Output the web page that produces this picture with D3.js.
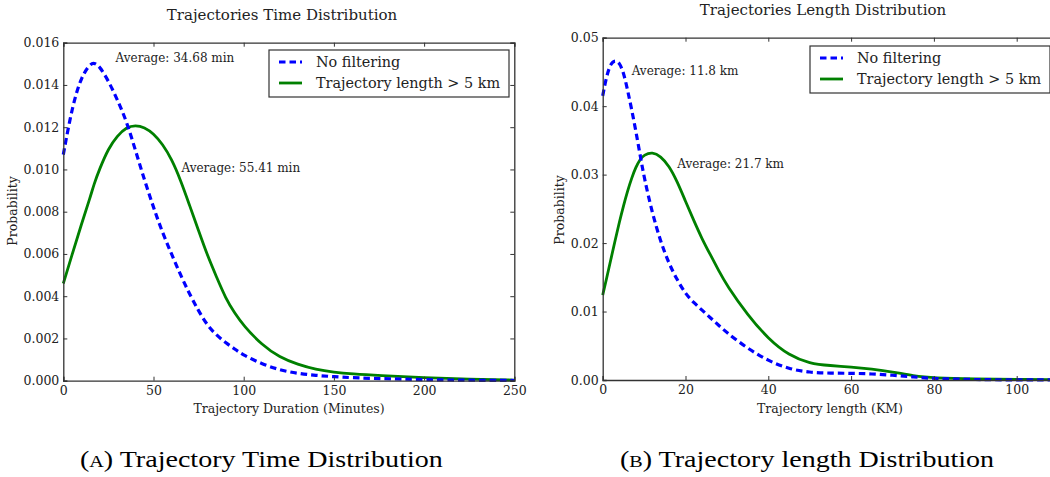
<!DOCTYPE html>
<html>
<head>
<meta charset="utf-8">
<script src="https://cdn.jsdelivr.net/npm/d3@7"></script>
<style>
  body { margin: 0; background: #fff; }
  svg { display: block; }
  text { font-family: "DejaVu Serif", serif; fill: #222; }
  .caption { font-family: "Liberation Serif", serif; fill: #000; }
</style>
</head>
<body>
<div id="chart"></div>
<script>
// ---- data ----
let timeMinutes = [0, 5, 10, 15, 17, 20, 25, 30, 35, 40, 45, 50, 55, 60, 65, 70, 75, 80, 85, 90, 95, 100, 110, 120, 130, 140, 150, 160, 175, 200, 225, 250];
let timeNoFilter = [0.0107, 0.0130, 0.0144, 0.0150, 0.01505, 0.0149, 0.0142, 0.0133, 0.0123, 0.0109, 0.0095, 0.0082, 0.0070, 0.0060, 0.0050, 0.0041, 0.0033, 0.0026, 0.00215, 0.0018, 0.0015, 0.0012, 0.0008, 0.0005, 0.00034, 0.00025, 0.00019, 0.00014, 0.0001, 0.00005, 0.00002, 0.00001];
let timeLong = [0.0046, 0.0060, 0.0074, 0.0087, 0.0093, 0.0100, 0.0110, 0.0116, 0.0120, 0.0121, 0.0120, 0.0117, 0.0112, 0.0105, 0.0095, 0.0083, 0.0071, 0.0059, 0.0049, 0.0039, 0.0032, 0.0026, 0.0017, 0.0011, 0.00077, 0.00053, 0.0004, 0.00032, 0.00024, 0.00014, 0.00007, 0.00003];

let lengthKm = [0, 1, 2, 3, 4, 5, 6, 7, 8, 9, 10, 12, 14, 16, 18, 20, 22, 24, 26, 28, 30, 35, 40, 45, 50, 55, 60, 65, 70, 75, 80, 90, 100, 110, 120];
let lengthNoFilter = [0.0415, 0.0446, 0.0463, 0.0467, 0.0464, 0.0450, 0.0424, 0.0395, 0.0364, 0.0330, 0.0296, 0.0243, 0.0202, 0.0170, 0.0146, 0.0126, 0.0113, 0.0102, 0.0091, 0.0080, 0.0069, 0.0046, 0.0028, 0.0016, 0.0011, 0.0010, 0.00098, 0.0009, 0.0007, 0.00045, 0.0002, 0.00005, 0.00002, 0.00001, 0];
let lengthLong = [0.0124, 0.0150, 0.0177, 0.0204, 0.0230, 0.0254, 0.0276, 0.0295, 0.0311, 0.0322, 0.0329, 0.0333, 0.0327, 0.0313, 0.0290, 0.0261, 0.0233, 0.0206, 0.0183, 0.0160, 0.0138, 0.0095, 0.0060, 0.0036, 0.0024, 0.0021, 0.0019, 0.0016, 0.0012, 0.0006, 0.0003, 0.00015, 0.0001, 0.00005, 0.00002];

let timeXTicks = [0, 50, 100, 150, 200, 250];
let timeYTicks = [0, 0.002, 0.004, 0.006, 0.008, 0.010, 0.012, 0.014, 0.016];
let lengthXTicks = [0, 20, 40, 60, 80, 100];
let lengthYTicks = [0, 0.01, 0.02, 0.03, 0.04, 0.05];

let seriesNames = ["No filtering", "Trajectory length > 5 km"];
let timeAverages = ["Average: 34.68 min", "Average: 55.41 min"];
let lengthAverages = ["Average: 11.8 km", "Average: 21.7 km"];
let captions = ["Trajectory Time Distribution", "Trajectory length Distribution"];

let W = 1050, H = 477;
let blue = "#0000ff", green = "#008000";

let svg = d3.select("#chart")
            .append("svg")
            .attr("width", W)
            .attr("height", H);

function drawPanel(p) {
    let x = d3.scaleLinear().domain(p.xDomain).range([p.left, p.right]);
    let y = d3.scaleLinear().domain(p.yDomain).range([p.bottom, p.top]);
    let g = svg.append("g");

    // curves
    let line = d3.line()
                 .x((d, i) => x(p.xs[i]))
                 .y(d => y(d))
                 .curve(d3.curveBasis);

    g.append("path")
     .attr("d", line(p.long))
     .attr("fill", "none")
     .attr("stroke", green)
     .attr("stroke-width", 2.8);

    g.append("path")
     .attr("d", line(p.noFilter))
     .attr("fill", "none")
     .attr("stroke", blue)
     .attr("stroke-width", 3.2)
     .attr("stroke-dasharray", "6.5,4");

    // axes with inward ticks on all sides
    let fmtY = d3.format(p.yFormat);
    let bottomAxis = d3.axisBottom(x).tickValues(p.xTicks).tickSize(-4).tickPadding(5).tickFormat(d3.format("d"));
    let topAxis = d3.axisTop(x).tickValues(p.xTicks).tickSize(-4).tickFormat("");
    let leftAxis = d3.axisLeft(y).tickValues(p.yTicks).tickSize(-4).tickPadding(4).tickFormat(fmtY);
    let rightAxis = d3.axisRight(y).tickValues(p.yTicks).tickSize(-4).tickFormat("");

    let axes = [
        [bottomAxis, "translate(0," + p.bottom + ")"],
        [topAxis, "translate(0," + p.top + ")"],
        [leftAxis, "translate(" + p.left + ",0)"],
        [rightAxis, "translate(" + p.right + ",0)"]
    ];
    axes.forEach(a => {
        let ax = g.append("g").attr("transform", a[1]).call(a[0]);
        ax.attr("font-family", null);
        ax.select(".domain").attr("stroke", "#333").attr("stroke-width", 1.3);
        ax.selectAll(".tick line").attr("stroke", "#333");
        ax.selectAll("text").style("font-family", "DejaVu Serif").style("font-size", "12.5px").attr("fill", "#222");
    });

    // titles and labels
    g.append("text")
     .attr("x", p.titleX).attr("y", p.titleY)
     .attr("text-anchor", "middle")
     .style("font-size", "15px")
     .text(p.title);

    g.append("text")
     .attr("x", p.xLabelX).attr("y", 413)
     .attr("text-anchor", "middle")
     .style("font-size", "12.5px")
     .text(p.xLabel);

    g.append("text")
     .attr("transform", "translate(" + p.yLabelX + "," + p.yLabelY + ") rotate(-90)")
     .attr("text-anchor", "middle")
     .style("font-size", "12.5px")
     .text("Probability");

    // average annotations
    p.annots.forEach(a => {
        g.append("text")
         .attr("x", x(a.x)).attr("y", y(a.y))
         .style("font-size", "12px")
         .text(a.text);
    });

    // legend
    let lg = g.append("g");
    lg.append("rect")
      .attr("x", p.legX).attr("y", p.legY)
      .attr("width", 240).attr("height", 47)
      .attr("fill", "#fff")
      .attr("stroke", "#333")
      .attr("stroke-width", 1.2);
    [[blue, "6.5,4", 3.2], [green, null, 2.8]].forEach((s, i) => {
        let yy = p.legY + 12 + i * 21;
        lg.append("line")
          .attr("x1", p.legX + 10).attr("x2", p.legX + 33)
          .attr("y1", yy).attr("y2", yy)
          .attr("stroke", s[0])
          .attr("stroke-width", s[2])
          .attr("stroke-dasharray", s[1]);
        lg.append("text")
          .attr("x", p.legX + 47).attr("y", yy + 5)
          .style("font-size", "14.4px")
          .text(seriesNames[i]);
    });

    // caption, a wide serif face approximated by stretching
    let cap = svg.append("text")
                 .attr("class", "caption")
                 .attr("transform", "translate(" + p.capX + ",467) scale(1.22,1)")
                 .style("font-size", "23px");
    cap.append("tspan").text("(");
    cap.append("tspan").style("font-size", "16.5px").text(p.capLetter);
    cap.append("tspan").text(") " + p.caption);
}

drawPanel({
    xs: timeMinutes, noFilter: timeNoFilter, long: timeLong,
    xDomain: [0, 250], yDomain: [0, 0.016],
    left: 63.3, right: 514.3, top: 42.7, bottom: 380.7,
    xTicks: timeXTicks, yTicks: timeYTicks, yFormat: ".3f",
    title: "Trajectories Time Distribution", titleX: 282, titleY: 19.5,
    xLabel: "Trajectory Duration (Minutes)", xLabelX: 289,
    yLabelX: 17, yLabelY: 211,
    annots: [
        {x: 29, y: 0.0151, text: timeAverages[0]},
        {x: 65.5, y: 0.0099, text: timeAverages[1]}
    ],
    legX: 269, legY: 50,
    capX: 80, capLetter: "A", caption: captions[0]
});

drawPanel({
    xs: lengthKm, noFilter: lengthNoFilter, long: lengthLong,
    xDomain: [0, 120], yDomain: [0, 0.05],
    left: 602.7, right: 1099.5, top: 37.7, bottom: 380,
    xTicks: lengthXTicks, yTicks: lengthYTicks, yFormat: ".2f",
    title: "Trajectories Length Distribution", titleX: 823, titleY: 14.5,
    xLabel: "Trajectory length (KM)", xLabelX: 830,
    yLabelX: 564, yLabelY: 210,
    annots: [
        {x: 7, y: 0.0446, text: lengthAverages[0]},
        {x: 18, y: 0.0309, text: lengthAverages[1]}
    ],
    legX: 810, legY: 46,
    capX: 620, capLetter: "B", caption: captions[1]
});
</script>
</body>
</html>
